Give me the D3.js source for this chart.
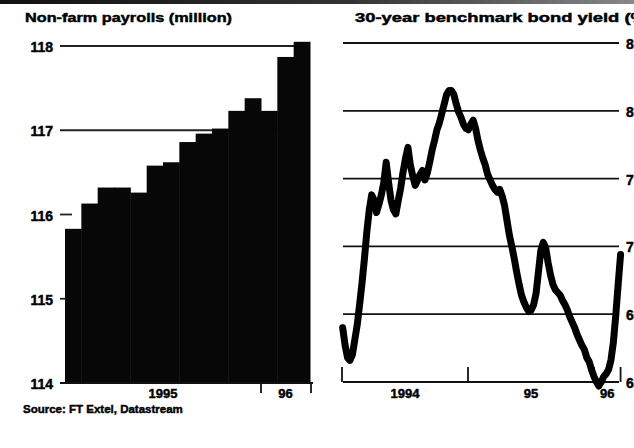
<!DOCTYPE html>
<html>
<head>
<meta charset="utf-8">
<script src="https://cdn.jsdelivr.net/npm/d3@7/dist/d3.min.js"></script>
<style>
  html, body { margin: 0; padding: 0; background: #fff; overflow: hidden; }
  svg { display: block; }
  text { font-family: "Liberation Sans", Arial, sans-serif; font-weight: bold; fill: #000;
         stroke: #000; stroke-width: 0.45px; }
</style>
</head>
<body>
<svg id="chart" width="634" height="448"></svg>
<script>
// ---- Non-farm payrolls, monthly (million) ----
const payrollMonths = ["Jan 95","Feb 95","Mar 95","Apr 95","May 95","Jun 95","Jul 95",
  "Aug 95","Sep 95","Oct 95","Nov 95","Dec 95","Jan 96","Feb 96","Mar 96"];
const payrollValues = [115.83,116.13,116.32,116.32,116.26,116.58,116.62,
  116.86,116.96,117.02,117.23,117.38,117.23,117.87,118.05];
const payrollTicks = [114,115,116,117,118];
const payrollYearLabels = [
  { label: "1995", from: "Jan 95", to: "Dec 95" },
  { label: "96", from: "Jan 96", to: "Mar 96" }
];

// ---- 30-year benchmark bond yield, weekly (%) ----
const yieldStart = "1994-01-03";
const yieldValues = [
  6.40,6.27,6.18,6.16,6.20,6.31,6.42,6.57,6.73,6.91,7.11,7.27,7.38,7.34,7.25,7.31,
  7.38,7.47,7.62,7.47,7.34,7.27,7.24,7.34,7.43,7.55,7.65,7.73,7.60,7.52,7.45,7.49,
  7.53,7.56,7.49,7.54,7.62,7.71,7.78,7.86,7.91,7.98,8.05,8.12,8.15,8.15,8.12,8.05,
  7.99,7.95,7.90,7.87,7.86,7.90,7.93,7.87,7.78,7.71,7.65,7.60,7.53,7.49,7.45,7.42,
  7.40,7.42,7.37,7.30,7.19,7.08,7.00,6.91,6.81,6.72,6.64,6.59,6.55,6.52,6.53,6.57,
  6.65,6.81,6.97,7.03,6.99,6.88,6.79,6.72,6.68,6.66,6.64,6.60,6.57,6.53,6.48,6.44,
  6.40,6.35,6.31,6.27,6.24,6.18,6.15,6.09,6.04,6.00,5.97,6.00,6.04,6.06,6.09,6.16,
  6.29,6.49,6.72,6.94
];
const yieldTicks = [6.0,6.5,7.0,7.5,8.0,8.5];
const yieldYearLabels = [
  { label: "1994", from: "1994-01-01", to: "1995-01-01" },
  { label: "95", from: "1995-01-01", to: "1996-01-01" },
  { label: "96", from: "1996-01-01", to: "1996-03-18" }
];
const yieldYearTicks = ["1994-01-01","1995-01-01","1996-01-01","1996-03-18"];

const svg = d3.select("#chart");
const parse = d3.timeParse("%Y-%m-%d");

// dark rule along the top edge of the panel
const grad = svg.append("defs").append("linearGradient").attr("id", "topRule");
grad.append("stop").attr("offset", "0%").attr("stop-color", "#111");
grad.append("stop").attr("offset", "55%").attr("stop-color", "#333");
grad.append("stop").attr("offset", "100%").attr("stop-color", "#888");
svg.append("rect").attr("x", 0).attr("y", 0).attr("width", 634).attr("height", 4)
  .attr("fill", "url(#topRule)");

// ================= Left panel: payrolls =================
const xP = d3.scaleBand().domain(payrollMonths).range([65, 310]).padding(0);
const yP = d3.scaleLinear().domain([114, 118]).range([383, 46]);

const left = svg.append("g");

left.append("text").attr("x", 25).attr("y", 22).attr("font-size", 13)
  .attr("textLength", 207).attr("lengthAdjust", "spacingAndGlyphs")
  .text("Non-farm payrolls (million)");

// grid lines at 117 and 118, short ticks below
payrollTicks.forEach(v => {
  const full = v >= 117;
  left.append("line")
    .attr("x1", 60).attr("x2", full ? 306 : 72)
    .attr("y1", yP(v)).attr("y2", yP(v))
    .attr("stroke", "#222").attr("stroke-width", 1.8);
  left.append("text").attr("x", 53).attr("y", yP(v) + 6)
    .attr("text-anchor", "end").attr("font-size", 14)
    .text(v);
});

left.selectAll("rect.bar").data(payrollValues).join("rect")
  .attr("class", "bar")
  .attr("x", (d, i) => xP(payrollMonths[i]))
  .attr("width", xP.bandwidth() + 0.5)
  .attr("y", d => yP(d))
  .attr("height", d => yP(114) - yP(d))
  .attr("fill", "#070707");

// baseline and year ticks
left.append("line").attr("x1", 60).attr("x2", 313)
  .attr("y1", yP(114)).attr("y2", yP(114))
  .attr("stroke", "#111").attr("stroke-width", 2);
[xP("Jan 96"), xP("Mar 96") + xP.bandwidth() + 1].forEach(x => {
  left.append("line").attr("x1", x).attr("x2", x)
    .attr("y1", yP(114)).attr("y2", yP(114) + 10)
    .attr("stroke", "#111").attr("stroke-width", 1.8);
});
payrollYearLabels.forEach(d => {
  const cx = (xP(d.from) + xP(d.to) + xP.bandwidth()) / 2;
  left.append("text").attr("x", cx).attr("y", 398)
    .attr("text-anchor", "middle").attr("font-size", 13).text(d.label);
});

left.append("text").attr("x", 23).attr("y", 413).attr("font-size", 11.5)
  .text("Source: FT Extel, Datastream");

// ================= Right panel: bond yield =================
const xY = d3.scaleTime()
  .domain([parse("1994-01-01"), parse("1996-01-01")])
  .range([342, 594]);
const yY = d3.scaleLinear().domain([6.0, 8.5]).range([382, 43]);

const right = svg.append("g");

// the headline runs off the right edge of the panel
right.append("text").attr("x", 355).attr("y", 22).attr("font-size", 13)
  .attr("textLength", 298).attr("lengthAdjust", "spacingAndGlyphs")
  .text("30-year benchmark bond yield (%)");

yieldTicks.forEach(v => {
  right.append("line").attr("x1", 343).attr("x2", 619)
    .attr("y1", yY(v)).attr("y2", yY(v))
    .attr("stroke", "#111").attr("stroke-width", v === 6.0 ? 2 : 1.8);
  right.append("text").attr("x", 626).attr("y", yY(v) + 6)
    .attr("font-size", 14).text(v.toFixed(1));
});

yieldYearTicks.forEach(s => {
  const x = xY(parse(s));
  right.append("line").attr("x1", x).attr("x2", x)
    .attr("y1", yY(6.0)).attr("y2", yY(6.0) - 15)
    .attr("stroke", "#111").attr("stroke-width", 1.8);
});

yieldYearLabels.forEach(d => {
  const cx = (xY(parse(d.from)) + xY(parse(d.to))) / 2;
  right.append("text").attr("x", cx).attr("y", 398)
    .attr("text-anchor", "middle").attr("font-size", 13).text(d.label);
});

const start = parse(yieldStart);
const yieldSeries = yieldValues.map((v, i) => ({ date: d3.timeDay.offset(start, i * 7), value: v }));

right.append("path").datum(yieldSeries)
  .attr("fill", "none")
  .attr("stroke", "#000")
  .attr("stroke-width", 7)
  .attr("stroke-linejoin", "round")
  .attr("stroke-linecap", "round")
  .attr("d", d3.line().x(d => xY(d.date)).y(d => yY(d.value)));
</script>
</body>
</html>
